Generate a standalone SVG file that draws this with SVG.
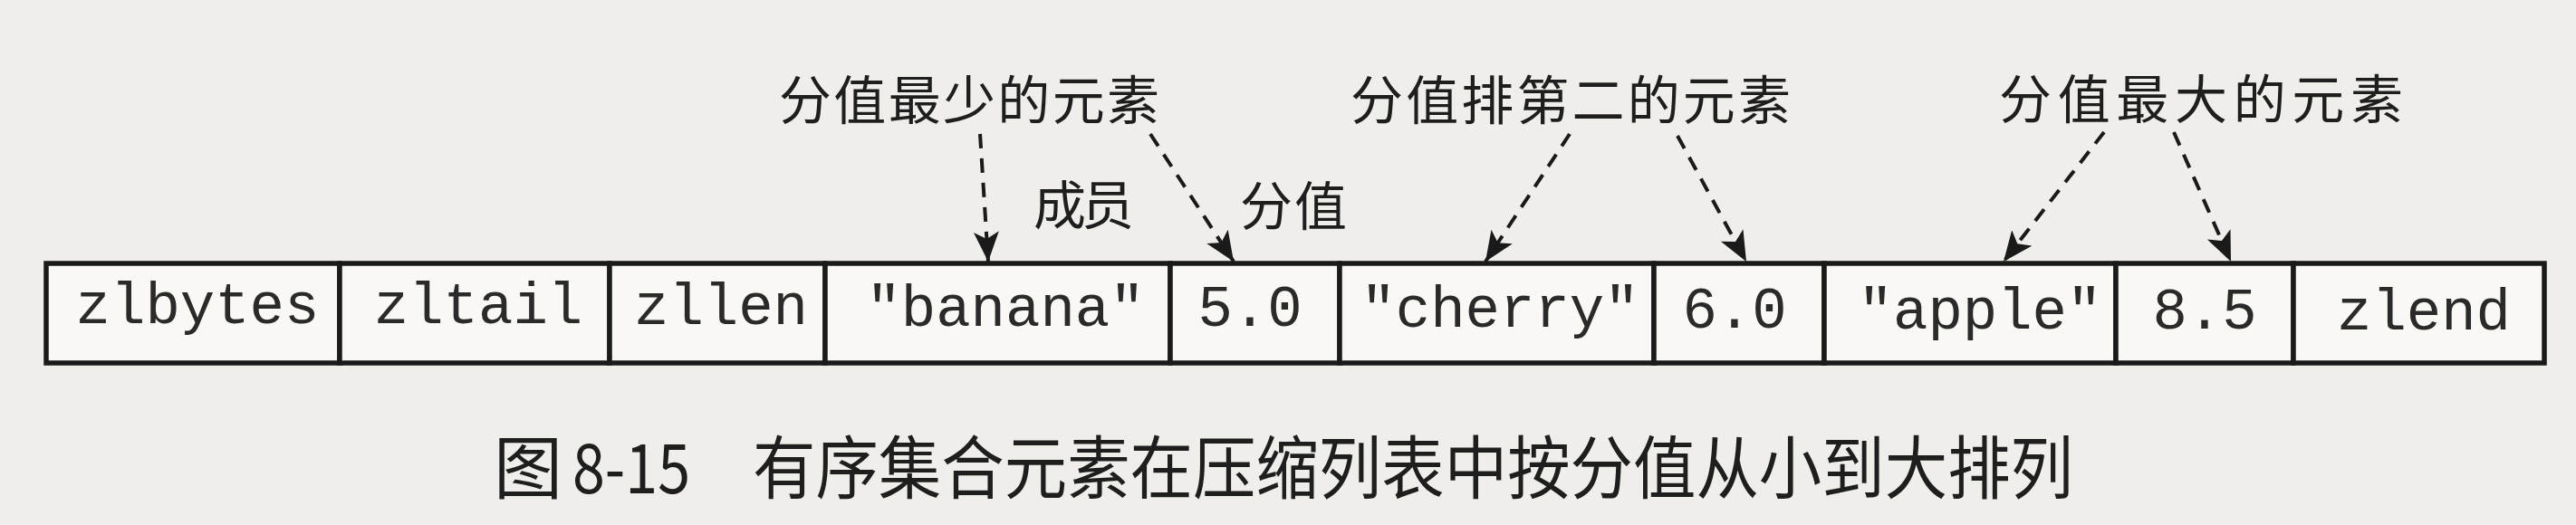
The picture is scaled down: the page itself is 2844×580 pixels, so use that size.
<svg xmlns="http://www.w3.org/2000/svg" width="2844" height="580" viewBox="0 0 2844 580">
<style>
.cell{fill:#f9f8f5;stroke:#1a1a1a;stroke-width:5.5}
.mono{font-family:"Liberation Mono","DejaVu Sans Mono",monospace;font-size:64px;fill:#2a2a2a;text-anchor:middle}
.lbl{font-family:"Noto Sans CJK SC","Noto Sans",sans-serif;font-size:58px;fill:#1e1e1e}
.cap{font-family:"Noto Sans CJK SC","Noto Sans",sans-serif;font-size:76px;fill:#1e1e1e}
.dash{stroke:#1a1a1a;stroke-width:4;stroke-dasharray:16 11;fill:none;marker-end:url(#ah)}
</style>
<defs>
<marker id="ah" markerUnits="userSpaceOnUse" markerWidth="36" markerHeight="30" refX="33" refY="14" orient="auto">
<path d="M0,0 L33,14 L0,28 L8,14 Z" fill="#1a1a1a"/>
</marker>
</defs>
<rect x="0" y="0" width="2844" height="580" fill="#efeeea"/>
<g id="ziplist">
<g id="n-zlbytes"><rect class="cell" x="51" y="291" width="324" height="110"/><text class="mono" x="218" y="357">zlbytes</text></g>
<g id="n-zltail"><rect class="cell" x="375" y="291" width="298" height="110"/><text class="mono" x="528" y="357">zltail</text></g>
<g id="n-zllen"><rect class="cell" x="673" y="291" width="238" height="110"/><text class="mono" x="796" y="358">zllen</text></g>
<g id="n-banana"><rect class="cell" x="911" y="291" width="381" height="110"/><text class="mono" x="1110" y="360">"banana"</text></g>
<g id="n-5"><rect class="cell" x="1292" y="291" width="187" height="110"/><text class="mono" x="1380" y="360">5.0</text></g>
<g id="n-cherry"><rect class="cell" x="1479" y="291" width="347" height="110"/><text class="mono" x="1656" y="361">"cherry"</text></g>
<g id="n-6"><rect class="cell" x="1826" y="291" width="188" height="110"/><text class="mono" x="1915" y="362">6.0</text></g>
<g id="n-apple"><rect class="cell" x="2014" y="291" width="322" height="110"/><text class="mono" x="2186" y="363">"apple"</text></g>
<g id="n-85"><rect class="cell" x="2336" y="291" width="196" height="110"/><text class="mono" x="2434" y="363">8.5</text></g>
<g id="n-zlend"><rect class="cell" x="2532" y="291" width="277" height="110"/><text class="mono" x="2676" y="364">zlend</text></g>
</g>
<g id="labels">
<text id="l-min" class="lbl" x="860" y="132" textLength="420" lengthAdjust="spacing">分值最少的元素</text>
<text id="l-second" class="lbl" x="1491" y="132" textLength="486" lengthAdjust="spacing">分值排第二的元素</text>
<text id="l-max" class="lbl" x="2207" y="131" textLength="446" lengthAdjust="spacing">分值最大的元素</text>
<text id="l-member" class="lbl" x="1141" y="248" textLength="111" lengthAdjust="spacing">成员</text>
<text id="l-score" class="lbl" x="1369" y="249" textLength="118" lengthAdjust="spacing">分值</text>
</g>
<g id="connectors">
<line class="dash" x1="1082" y1="148" x2="1091" y2="289"/>
<line class="dash" x1="1270" y1="148" x2="1362" y2="289"/>
<line class="dash" x1="1733" y1="148" x2="1640" y2="289"/>
<line class="dash" x1="1852" y1="150" x2="1928" y2="289"/>
<line class="dash" x1="2323" y1="146" x2="2212" y2="289"/>
<line class="dash" x1="2400" y1="146" x2="2463" y2="289"/>
</g>
<g id="caption">
<text class="cap" x="545" y="545">图</text>
<text class="cap" x="632" y="545" textLength="130" lengthAdjust="spacingAndGlyphs">8-15</text>
<text class="cap" x="831" y="545" textLength="1458" lengthAdjust="spacingAndGlyphs">有序集合元素在压缩列表中按分值从小到大排列</text>
</g>
</svg>
